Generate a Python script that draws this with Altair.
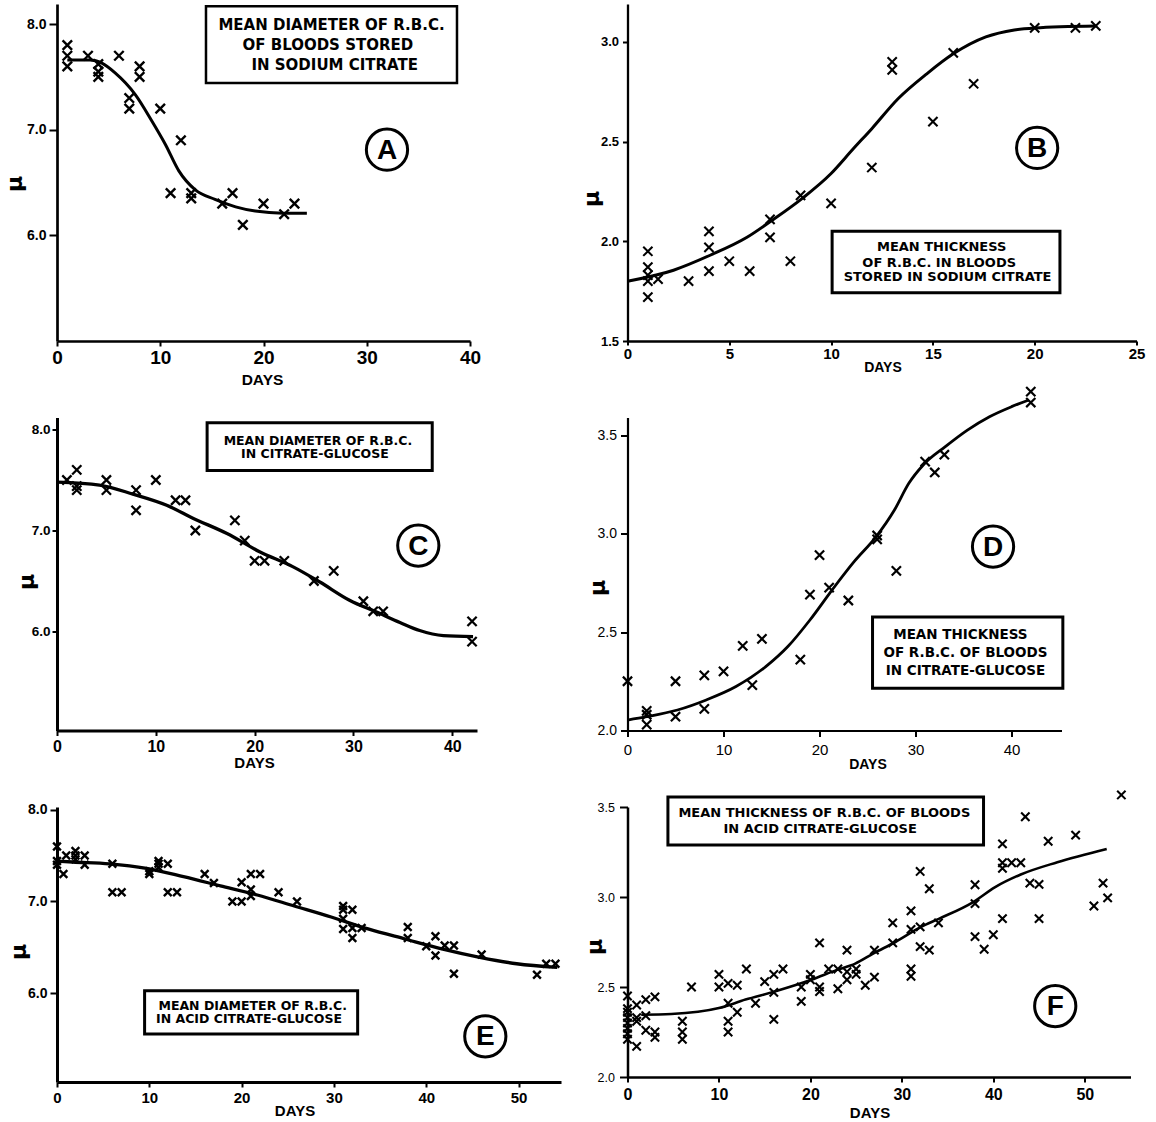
import altair as alt
import pandas as pd

# ---------------- A: mean diameter, sodium citrate ----------------
a_day = [1, 1, 1, 3, 4, 4, 4, 6, 7, 7, 8, 8, 10, 11, 12, 13, 13, 16, 17, 18, 20, 22, 23]
a_mu = [7.8, 7.7, 7.6, 7.7, 7.62, 7.55, 7.5, 7.7, 7.3, 7.2, 7.6, 7.5, 7.2, 6.4, 6.9,
        6.4, 6.35, 6.3, 6.4, 6.1, 6.3, 6.2, 6.3]
a_fit_day = [1, 3.2, 4.35, 5.6, 7.6, 9.2, 10.5, 11.8, 13.4, 15.3, 17.3, 19.2, 21.9, 24.2]
a_fit_mu = [7.66, 7.66, 7.63, 7.54, 7.33, 7.08, 6.86, 6.61, 6.43, 6.34, 6.27, 6.23, 6.21, 6.21]

# ---------------- B: mean thickness, sodium citrate ----------------
b_day = [1, 1, 1, 1, 1, 1.5, 3, 4, 4, 4, 5, 6, 7, 7, 8, 8.5, 10, 12, 13, 13, 15, 16, 17,
         20, 22, 23]
b_mu = [1.95, 1.87, 1.83, 1.80, 1.72, 1.81, 1.80, 2.05, 1.97, 1.85, 1.90, 1.85, 2.11, 2.02,
        1.90, 2.23, 2.19, 2.37, 2.90, 2.86, 2.60, 2.945, 2.79, 3.07, 3.07, 3.08]
b_fit_day = [0, 2.26, 4.06, 5.87, 7.1, 8.57, 10, 11.1, 12, 13.3, 14.7, 16, 17.6, 19.0, 20, 23]
b_fit_mu = [1.80, 1.855, 1.93, 2.02, 2.105, 2.214, 2.34, 2.465, 2.565, 2.716, 2.84, 2.94,
            3.025, 3.06, 3.07, 3.08]

# ---------------- C: mean diameter, citrate-glucose ----------------
c_day = [1, 2, 2, 2, 5, 5, 8, 8, 10, 12, 13, 14, 18, 19, 20, 21, 23, 26, 28, 31, 32, 33, 42, 42]
c_mu = [7.5, 7.6, 7.44, 7.4, 7.5, 7.4, 7.4, 7.2, 7.5, 7.3, 7.3, 7.0, 7.1, 6.9, 6.7, 6.7, 6.7,
        6.5, 6.6, 6.3, 6.2, 6.2, 6.1, 5.9]
c_fit_day = [0, 4.3, 7.7, 11.1, 13.8, 17.2, 20.5, 23.9, 26.6, 29.6, 32.4, 34.7, 36.7, 39.1, 42.1]
c_fit_mu = [7.48, 7.45, 7.36, 7.25, 7.12, 6.97, 6.79, 6.64, 6.49, 6.31, 6.19, 6.09, 6.01,
            5.96, 5.95]

# ---------------- D: mean thickness, citrate-glucose ----------------
d_day = [0, 2, 2, 2, 5, 5, 8, 8, 10, 12, 13, 14, 18, 19, 20, 21, 23, 26, 26, 28, 31, 32, 33,
         42, 42]
d_mu = [2.25, 2.10, 2.08, 2.03, 2.25, 2.07, 2.28, 2.11, 2.30, 2.43, 2.23, 2.465, 2.36, 2.69,
        2.89, 2.725, 2.66, 2.99, 2.97, 2.81, 3.365, 3.31, 3.40, 3.72, 3.665]
d_fit_day = [0, 2, 5.2, 8.2, 11.3, 14.4, 16.7, 19, 21.3, 23.6, 25.9, 27.8, 29.3, 30.8, 33.1,
             35.4, 37.7, 40, 41.8]
d_fit_mu = [2.053, 2.07, 2.104, 2.155, 2.223, 2.324, 2.426, 2.561, 2.713, 2.857, 2.984,
            3.119, 3.255, 3.348, 3.441, 3.525, 3.593, 3.644, 3.678]

# ---------------- E: mean diameter, acid citrate-glucose ----------------
e_day = [0, 0, 0, 0.7, 1, 2, 2, 2, 3, 3, 6, 6, 7, 10, 10, 11, 11, 11, 12, 12, 13, 16, 17, 19,
         20, 20, 21, 21, 21, 22, 24, 26, 31, 31, 31, 31, 32, 32, 32, 33, 38, 38, 40, 41, 41,
         42, 43, 43, 46, 52, 53, 54]
e_mu = [7.6, 7.44, 7.4, 7.3, 7.5, 7.5, 7.55, 7.46, 7.5, 7.4, 7.41, 7.1, 7.1, 7.3, 7.33, 7.44,
        7.41, 7.37, 7.41, 7.1, 7.1, 7.3, 7.2, 7.0, 7.21, 7.0, 7.3, 7.13, 7.06, 7.3, 7.1, 7.0,
        6.95, 6.91, 6.81, 6.70, 6.91, 6.71, 6.60, 6.71, 6.72, 6.60, 6.51, 6.62, 6.41, 6.52,
        6.52, 6.21, 6.42, 6.20, 6.32, 6.32]
e_fit_day = [0, 1.7, 5.7, 9.7, 13.7, 17.7, 21.7, 25.7, 29.7, 33.7, 37.7, 41.8, 45.8, 49.8, 54.2]
e_fit_mu = [7.44, 7.43, 7.41, 7.36, 7.27, 7.17, 7.07, 6.95, 6.83, 6.70, 6.59, 6.48, 6.39,
            6.32, 6.28]

# ---------------- F: mean thickness, acid citrate-glucose ----------------
f_day = [0, 0, 0, 0, 0, 0, 0, 0, 1, 1, 1, 1, 2, 2, 2, 3, 3, 3, 6, 6, 6, 7, 10, 10,
         11, 11, 11, 11, 12, 12, 13, 14, 15, 16, 16, 16, 17, 19, 19, 20, 20, 21, 21, 21,
         22, 23, 23, 24, 24, 24, 25, 25, 26, 27, 27, 29, 29, 31, 31, 31, 31, 32, 32, 32,
         33, 33, 34, 38, 38, 38, 39, 40, 41, 41, 41, 41, 42, 43, 43.5, 44, 45, 45, 46, 49,
         51, 52, 52.5, 54]
f_mu = [2.45, 2.38, 2.36, 2.33, 2.30, 2.27, 2.24, 2.21, 2.40, 2.33, 2.31, 2.17, 2.43, 2.34,
        2.26, 2.445, 2.25, 2.22, 2.31, 2.25, 2.21, 2.50, 2.57, 2.50, 2.52, 2.41, 2.31, 2.25,
        2.51, 2.36, 2.60, 2.41, 2.53, 2.57, 2.47, 2.32, 2.60, 2.50, 2.42, 2.57, 2.54, 2.745,
        2.50, 2.475, 2.60, 2.60, 2.49, 2.705, 2.585, 2.54, 2.60, 2.57, 2.51, 2.705, 2.555,
        2.745, 2.856, 2.923, 2.82, 2.60, 2.56, 3.142, 2.834, 2.724, 3.046, 2.705, 2.856,
        3.068, 2.963, 2.78, 2.71, 2.79, 2.88, 3.19, 3.16, 3.295, 3.19, 3.19, 3.446, 3.077,
        3.07, 2.88, 3.31, 3.344, 2.95, 3.077, 2.995, 3.567]
f_fit_day = [1.5, 4.8, 10, 12.9, 16.1, 20.1, 22.9, 24.9, 26.9, 29.3, 32.1, 34.1, 37.8, 40.2,
             43, 47, 52.4]
f_fit_mu = [2.346, 2.35, 2.383, 2.43, 2.475, 2.54, 2.595, 2.63, 2.687, 2.75, 2.834, 2.88,
            2.972, 3.055, 3.125, 3.193, 3.267]

# caption text of each panel
a_caption = ["MEAN DIAMETER OF R.B.C.", "OF BLOODS STORED", "IN SODIUM CITRATE"]
b_caption = ["MEAN THICKNESS", "OF R.B.C. IN BLOODS", "STORED IN SODIUM CITRATE"]
c_caption = ["MEAN DIAMETER OF R.B.C.", "IN CITRATE-GLUCOSE"]
d_caption = ["MEAN THICKNESS", "OF R.B.C. OF BLOODS", "IN CITRATE-GLUCOSE"]
e_caption = ["MEAN DIAMETER OF R.B.C.", "IN ACID CITRATE-GLUCOSE"]
f_caption = ["MEAN THICKNESS OF R.B.C. OF BLOODS", "IN ACID CITRATE-GLUCOSE"]

LABEL_FONT = "Liberation Sans"
BOX_FONT = "DejaVu Sans"
XMARK = "M-1,-1L1,1M-1,1L1,-1"

# layout / styling of each panel (caption boxes and letters are placed in data units)
STYLE = {
    "A": dict(xdom=[0, 40], ydom=[5.0, 8.19], w=413, h=337, xt=[0, 10, 20, 30, 40], yt=[6, 7, 8],
              xls=19, yls=14, xlw="bold", ylw="bold", ds=15.5, dx=205, dy=38, mx=-42.5, my=179.5,
              dw=2.7, xtick=5, xpad=2, ytick=8, ypad=3, ms=90, mw=2.4, lw=3,
              box=[14.43, 38.74, 8.168, 7.442], bw=2.5, tx=[26.59, 26.23, 26.9],
              ty=[7.993, 7.804, 7.615], ts=15, letter=("A", 31.96, 6.811)),
    "B": dict(xdom=[0, 25], ydom=[1.5, 3.19], w=509, h=337, xt=[0, 5, 10, 15, 20, 25],
              yt=[1.5, 2.0, 2.5, 3.0], xls=15, yls=13, xlw="bold", ylw="bold", ds=14, dx=255, dy=26,
              mx=-36, my=194.5, dw=2.3, xtick=4, xpad=1, ytick=5, ypad=4, ms=85, mw=2.1, lw=3,
              box=[10.05, 21.24, 2.05, 1.742], bw=3, tx=[15.43, 15.31, 15.72],
              ty=[1.972, 1.891, 1.821], ts=13, letter=("B", 20.12, 2.468)),
    "C": dict(xdom=[0, 42.5], ydom=[5.02, 8.119], w=420, h=313, xt=[0, 10, 20, 30, 40],
              yt=[6, 7, 8], xls=16, yls=13.5, xlw="bold", ylw="bold", ds=15, dx=197, dy=32,
              mx=-31, my=164, dw=3, xtick=5, xpad=3, ytick=5, ypad=2, ms=85, mw=2.3, lw=3.3,
              box=[15.19, 37.97, 8.066, 7.594], bw=3, tx=[26.4, 26.1], ty=[7.891, 7.759], ts=12.5,
              letter=("C", 36.56, 6.851)),
    "D": dict(xdom=[0, 45.2], ydom=[2.0, 3.589], w=434, h=313, xt=[0, 10, 20, 30, 40],
              yt=[2.0, 2.5, 3.0, 3.5], xls=15, yls=14, xlw="normal", ylw="normal", ds=14, dx=240,
              dy=34, mx=-30, my=170, dw=2.2, xtick=6, xpad=6, ytick=7, ypad=4, ms=85, mw=2.2, lw=2.8,
              box=[25.52, 45.34, 2.576, 2.215], bw=3, tx=[34.67, 35.2, 35.2],
              ty=[2.486, 2.393, 2.30], ts=13.5, letter=("D", 38.07, 2.934)),
    "E": dict(xdom=[0, 54.6], ydom=[5.03, 8.03], w=504, h=275, xt=[0, 10, 20, 30, 40, 50],
              yt=[6, 7, 8], xls=15, yls=14, xlw="bold", ylw="bold", ds=15, dx=237.5, dy=28,
              mx=-38.5, my=144.5, dw=3, xtick=5, xpad=3, ytick=7, ypad=3, ms=60, mw=2.4, lw=3.3,
              box=[9.49, 32.57, 6.025, 5.553], bw=3, tx=[21.2, 20.8], ty=[5.862, 5.716], ts=12.5,
              letter=("E", 46.4, 5.528)),
    "F": dict(xdom=[0, 55], ydom=[2.0, 3.5], w=503, h=270, xt=[0, 10, 20, 30, 40, 50],
              yt=[2.0, 2.5, 3.0, 3.5], xls=16, yls=12.5, xlw="bold", ylw="normal", ds=15, dx=242,
              dy=35, mx=-33.3, my=139.5, dw=2.5, xtick=5, xpad=4, ytick=8, ypad=5, ms=70, mw=2.1,
              lw=2.6, box=[4.42, 38.93, 3.556, 3.289], bw=3, tx=[21.52, 21.07],
              ty=[3.468, 3.376], ts=13, letter=("F", 46.77, 2.394)),
}


def panel(key, days, mus, fit_days, fit_mus, caption):
    s = STYLE[key]
    xscale = alt.Scale(domain=s["xdom"], nice=False, zero=False)
    yscale = alt.Scale(domain=s["ydom"], nice=False, zero=False)
    xaxis = alt.Axis(
        title="DAYS", values=s["xt"], format="d", grid=False,
        domainColor="black", domainWidth=s["dw"], tickColor="black", tickWidth=2,
        tickSize=s["xtick"], labelPadding=s["xpad"], labelFont=LABEL_FONT,
        labelFontSize=s["xls"], labelFontWeight=s["xlw"], labelColor="black",
        labelFlush=False, labelOverlap=False,
        titleFont=LABEL_FONT, titleFontSize=s["ds"], titleFontWeight="bold", titleColor="black",
        titleX=s["dx"], titleY=s["dy"], titleAlign="center", titleBaseline="middle")
    yaxis = alt.Axis(
        title="μ", values=s["yt"], format=".1f", grid=False,
        domainColor="black", domainWidth=s["dw"], tickColor="black", tickWidth=2,
        tickSize=s["ytick"], labelPadding=s["ypad"], labelFont=LABEL_FONT,
        labelFontSize=s["yls"], labelFontWeight=s["ylw"], labelColor="black",
        labelFlush=False, labelOverlap=False,
        titleFont="DejaVu Sans", titleFontSize=22, titleFontWeight="bold", titleColor="black",
        titleAngle=270, titleX=s["mx"], titleY=s["my"], titleAlign="center",
        titleBaseline="middle")

    def X(field="day"):
        return alt.X(f"{field}:Q", scale=xscale, axis=xaxis)

    def Y(field="mu"):
        return alt.Y(f"{field}:Q", scale=yscale, axis=yaxis)

    pts = pd.DataFrame({"day": days, "mu": mus})
    fit = pd.DataFrame({"day": fit_days, "mu": fit_mus})
    bx = s["box"]
    box = pd.DataFrame({"day": [bx[0]], "day2": [bx[1]], "mu": [bx[2]], "mu2": [bx[3]]})
    txt = pd.DataFrame({"day": s["tx"], "mu": s["ty"], "label": caption})
    let = pd.DataFrame({"day": [s["letter"][1]], "mu": [s["letter"][2]], "label": [s["letter"][0]]})

    curve = alt.Chart(fit).mark_line(
        interpolate="monotone", color="black", strokeWidth=s["lw"]
    ).encode(x=X(), y=Y())
    marks = alt.Chart(pts).mark_point(
        shape=XMARK, filled=False, stroke="black", strokeWidth=s["mw"], size=s["ms"], opacity=1
    ).encode(x=X(), y=Y())
    frame = alt.Chart(box).mark_rect(
        fill="white", stroke="black", strokeWidth=s["bw"]
    ).encode(x=X(), x2="day2:Q", y=Y(), y2="mu2:Q")
    words = alt.Chart(txt).mark_text(
        font=BOX_FONT, fontSize=s["ts"], fontWeight="bold", color="black",
        align="center", baseline="middle"
    ).encode(x=X(), y=Y(), text="label:N")
    ring = alt.Chart(let).mark_point(
        shape="circle", filled=False, stroke="black", strokeWidth=3, size=1700, opacity=1
    ).encode(x=X(), y=Y())
    letter = alt.Chart(let).mark_text(
        font=LABEL_FONT, fontSize=28, fontWeight="bold", color="black",
        align="center", baseline="middle", dy=1
    ).encode(x=X(), y=Y(), text="label:N")

    return alt.layer(curve, marks, frame, words, ring, letter).properties(
        width=s["w"], height=s["h"])


pa = panel("A", a_day, a_mu, a_fit_day, a_fit_mu, a_caption)
pb = panel("B", b_day, b_mu, b_fit_day, b_fit_mu, b_caption)
pc = panel("C", c_day, c_mu, c_fit_day, c_fit_mu, c_caption)
pd_ = panel("D", d_day, d_mu, d_fit_day, d_fit_mu, d_caption)
pe = panel("E", e_day, e_mu, e_fit_day, e_fit_mu, e_caption)
pf = panel("F", f_day, f_mu, f_fit_day, f_fit_mu, f_caption)

# two-column grid; plot areas are laid out edge to edge ("flush")
chart = alt.concat(
    pa, pb, pc, pd_, pe, pf,
    columns=2, spacing={"row": 76.5, "column": 66.5}, bounds="flush",
).properties(
    padding={"left": 3, "top": 4, "right": 5, "bottom": 5},
    background="white",
).configure_view(stroke=None)

chart.save("out.html", embed_options={"renderer": "svg", "actions": False})
